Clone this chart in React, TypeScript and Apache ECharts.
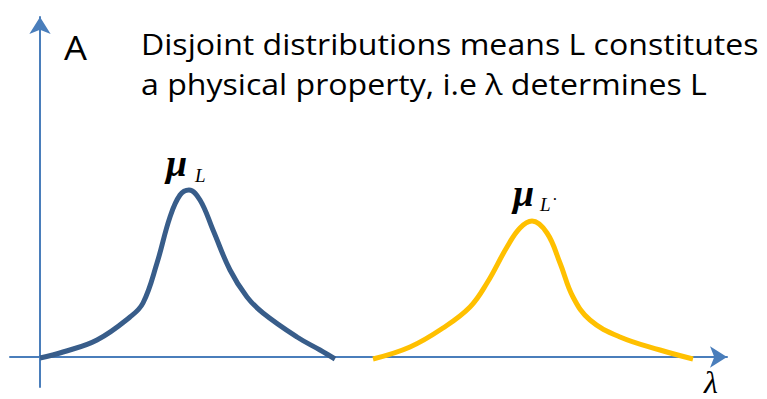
import React, { useEffect, useRef } from "react";
import * as echarts from "echarts";

const blueCurve: [number, number][] = [
  [0, -1], [23, 5], [57, 17], [90, 40], [103, 54], [117, 94], [130, 140],
  [140, 162], [149, 167], [160, 157], [173, 127], [190, 87], [207, 60],
  [223, 44], [257, 20], [280, 7], [295, -2],
];
const yellowCurve: [number, number][] = [
  [333, -2], [370, 10], [403, 29], [430, 50], [447, 74], [467, 110],
  [480, 129], [492, 136], [507, 124], [520, 94], [533, 60], [550, 37],
  [580, 20], [620, 7], [653, -2],
];
const titleLines = [
  "Disjoint distributions means L constitutes",
  "a physical property, i.e \u03bb determines L",
];
const panelLabel = "A";
const axisLabel = "\u03bb";

export default function App() {
  const ref = useRef<HTMLDivElement>(null);
  useEffect(() => {
    if (!ref.current) return;
    const chart = echarts.init(ref.current, undefined, { renderer: "svg" });
    const axisColor = "#4A7EBB";
    const axisCommon = {
      axisTick: { show: false },
      axisLabel: { show: false },
      splitLine: { show: false },
    };
    const titleStyle = (text: string) => ({
      text,
      fontFamily: "Open Sans",
      fontSize: 30,
      fill: "#000",
      verticalAlign: "middle",
    });
    const muStyle = {
      text: "\u03bc",
      fontFamily: "Liberation Serif",
      fontStyle: "italic",
      fontWeight: "bold",
      fontSize: 38,
      fill: "#000",
      verticalAlign: "middle",
    };
    const subStyle = (text: string) => ({
      text,
      fontFamily: "Liberation Serif",
      fontStyle: "italic",
      fontSize: 19,
      fill: "#000",
      verticalAlign: "middle",
    });
    chart.setOption({
      animation: false,
      backgroundColor: "#ffffff",
      grid: { left: 10, right: 40, top: 17, bottom: 12 },
      xAxis: {
        type: "value",
        min: -30,
        max: 687,
        ...axisCommon,
        axisLine: {
          show: true,
          onZero: true,
          symbol: ["none", "arrow"],
          symbolSize: [16, 17],
          lineStyle: { color: axisColor, width: 2 },
        },
      },
      yAxis: {
        type: "value",
        min: -30,
        max: 340,
        ...axisCommon,
        axisLine: {
          show: true,
          onZero: true,
          symbol: ["none", "arrow"],
          symbolSize: [16, 17],
          lineStyle: { color: axisColor, width: 2 },
        },
      },
      series: [
        {
          type: "line",
          data: blueCurve,
          smooth: 0.4,
          showSymbol: false,
          lineStyle: { color: "#385D8A", width: 5, cap: "butt" },
          z: 3,
        },
        {
          type: "line",
          data: yellowCurve,
          smooth: 0.4,
          showSymbol: false,
          lineStyle: { color: "#FFC000", width: 5, cap: "butt" },
          z: 3,
        },
      ],
      graphic: [
        {
          type: "text",
          x: 64,
          y: 47,
          scaleX: 1.1,
          style: {
            text: panelLabel,
            fontFamily: "Open Sans",
            fontSize: 33,
            fill: "#000",
            verticalAlign: "middle",
          },
        },
        { type: "text", x: 141, y: 43, scaleX: 1.07, style: titleStyle(titleLines[0]) },
        { type: "text", x: 141, y: 83, scaleX: 1.07, style: titleStyle(titleLines[1]) },
        { type: "text", x: 166, y: 163, style: muStyle },
        { type: "text", x: 195, y: 175, style: subStyle("L") },
        { type: "text", x: 513, y: 193, style: muStyle },
        { type: "text", x: 540, y: 204, style: subStyle("L\u02d9") },
        {
          type: "text",
          x: 704,
          y: 382,
          style: {
            text: axisLabel,
            fontFamily: "Liberation Serif",
            fontStyle: "italic",
            fontSize: 32,
            fill: "#000",
            verticalAlign: "middle",
          },
        },
      ],
    });
    return () => chart.dispose();
  }, []);
  return (
    <div
      ref={ref}
      style={{ position: "fixed", left: 0, top: 0, width: 767, height: 399 }}
    />
  );
}
